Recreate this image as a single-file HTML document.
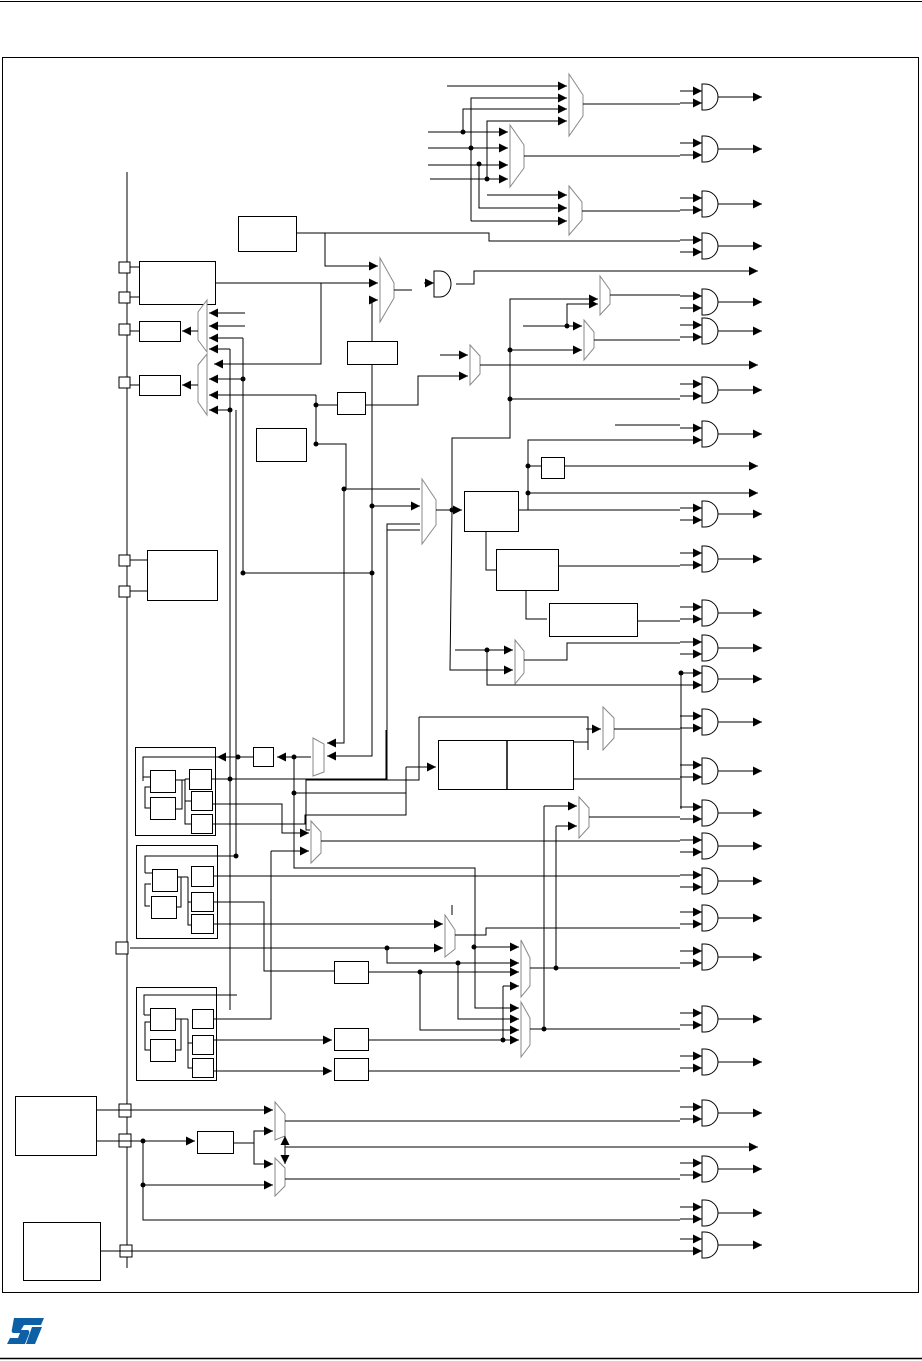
<!DOCTYPE html>
<html><head><meta charset="utf-8"><style>html,body{margin:0;padding:0;background:#fff}svg{display:block}</style></head>
<body>
<svg width="922" height="1361" viewBox="0 0 922 1361" xmlns="http://www.w3.org/2000/svg">
<defs>
<marker id="a" markerUnits="userSpaceOnUse" markerWidth="10" markerHeight="10" refX="9" refY="5" orient="auto"><path d="M0,0.5 L9,5 L0,9.5 z" fill="#000"/></marker>
<g id="g"><path d="M0,-13 h3 a13,13 0 0 1 0,26 h-3 z" fill="#fff" stroke="#000" stroke-width="1"/><line x1="-22" y1="-6" x2="0" y2="-6" stroke="#000" marker-end="url(#a)"/><line x1="-22" y1="6" x2="0" y2="6" stroke="#000" marker-end="url(#a)"/><line x1="16" y1="0" x2="60" y2="0" stroke="#000" marker-end="url(#a)"/></g>
</defs>
<rect width="922" height="1361" fill="#fff"/>
<line x1="0" y1="1.5" x2="922" y2="1.5" stroke="#000"/>
<line x1="0" y1="1358.5" x2="922" y2="1358.5" stroke="#000" stroke-width="1.5"/>
<rect x="2.5" y="57.5" width="916" height="1235" fill="none" stroke="#000"/>
<!-- ST logo -->
<path d="M14,1318 H44 L41,1325 H24 L21,1330 H28 Q30,1331 29,1334 L25,1344 H7 L10,1338 H18 L20,1333 H13 Q11,1332 12,1329 Z" fill="#0d5fa6"/>
<path d="M32,1327 H42 L35,1344 H26 Z" fill="#0d5fa6"/>

<g stroke="#000" fill="none" stroke-width="1">
<line x1="127" y1="172" x2="127" y2="1268"/>
<g fill="#fff">
<rect x="119" y="262" width="11" height="11"/><rect x="119" y="292" width="11" height="11"/><rect x="119" y="324" width="11" height="11"/><rect x="119" y="377" width="11" height="11"/><rect x="119" y="555" width="11" height="11"/><rect x="119" y="586" width="11" height="11"/><rect x="116" y="942" width="12" height="12"/><rect x="119" y="1104" width="12" height="13"/><rect x="119" y="1134" width="12" height="13"/><rect x="120" y="1245" width="12" height="12"/>
</g>
<rect x="139.5" y="261.5" width="76" height="43"/>
<rect x="139.5" y="321.5" width="41" height="20"/>
<rect x="139.5" y="375.5" width="41" height="20"/>
<rect x="238.5" y="216.5" width="58" height="35"/>
<rect x="147.5" y="550.5" width="70" height="50"/>
<rect x="256.5" y="428.5" width="50" height="33"/>
<rect x="347.5" y="341.5" width="50" height="23"/>
<rect x="337.5" y="392.5" width="28" height="22"/>
<rect x="464.5" y="491.5" width="54" height="40"/>
<rect x="496.5" y="549.5" width="62" height="41"/>
<rect x="549.5" y="603.5" width="88" height="33"/>
<rect x="541.5" y="457.5" width="23" height="21"/>
<rect x="438.5" y="740.5" width="135" height="49"/>
<line x1="507" y1="741" x2="507" y2="790" stroke-width="1.5"/>
<rect x="253.5" y="747.5" width="20" height="19"/>
<rect x="334.5" y="961.5" width="34" height="22"/>
<rect x="334.5" y="1028.5" width="34" height="22"/>
<rect x="334.5" y="1058.5" width="34" height="22"/>
<rect x="197.5" y="1131.5" width="36" height="22"/>
<rect x="15.5" y="1096.5" width="81" height="59"/>
<rect x="23.5" y="1222.5" width="77" height="58"/>
<rect x="135.5" y="747.5" width="80" height="88"/>
<rect x="150.5" y="770.5" width="25" height="22"/><rect x="150.5" y="797.5" width="25" height="22"/>
<rect x="189.5" y="769.5" width="22" height="20"/><rect x="191.5" y="791.5" width="21" height="19"/><rect x="191.5" y="814.5" width="21" height="19"/>
<path d="M143,781 V757 H228 M150,777 H143 M150,808 H145 V787 H150 M176,780 H185 M176,809 H182 V780 M185,779 H189 M185,779 V824 H191 M185,801 H191"/>
<rect x="136.5" y="845.5" width="81" height="93"/>
<rect x="152.5" y="869.5" width="25" height="22"/><rect x="151.5" y="896.5" width="25" height="22"/>
<rect x="191.5" y="866.5" width="22" height="20"/><rect x="191.5" y="892.5" width="22" height="19"/><rect x="191.5" y="914.5" width="22" height="19"/>
<path d="M145,873 V856 H236 M152,873 H145 M150,906 H145 V884 H151 M177,877 H181 V907 H176 M181,877 H188 M188,877 V925 H191 M188,902 H191"/>
<rect x="136.5" y="987.5" width="80" height="93"/>
<rect x="150.5" y="1008.5" width="25" height="22"/><rect x="150.5" y="1039.5" width="25" height="22"/>
<rect x="192.5" y="1009.5" width="21" height="19"/><rect x="192.5" y="1035.5" width="21" height="19"/><rect x="192.5" y="1058.5" width="21" height="19"/>
<path d="M144,1015 V995 H237 M150,1015 H144 M150,1050 H145 V1022 H150 M176,1019 H181 V1050 H176 M181,1019 H188 M188,1019 V1068 H192 M188,1043 H192"/>
</g>

<g stroke="#888" fill="#fff" stroke-width="1">
<polygon points="569,74 583,95 583,116 569,136"/>
<polygon points="510,125 524,145 524,168 510,187"/>
<polygon points="569,186 582,202 582,220 569,235"/>
<polygon points="380,258 394,283 394,298 380,322"/>
<polygon points="198,312 207,300 207,352 198,340"/>
<polygon points="198,365 207,354 207,415 198,402"/>
<polygon points="470,345 480,356 480,374 470,385"/>
<polygon points="600,276 610,290 610,304 600,315"/>
<polygon points="584,320 594,332 594,348 584,360"/>
<polygon points="422,479 436,500 436,525 422,544"/>
<polygon points="515,640 524,651 524,673 515,684"/>
<polygon points="603,707 614,718 614,738 603,750"/>
<polygon points="313,738 324,744 324,772 313,776"/>
<polygon points="311,821 321,832 321,853 311,863"/>
<polygon points="579,797 589,808 589,827 579,838"/>
<polygon points="445,915 455,930 455,949 445,957"/>
<polygon points="521,940 530,958 530,986 521,997"/>
<polygon points="521,1002 530,1018 530,1045 521,1057"/>
<polygon points="275,1102 285,1114 285,1136 275,1140"/>
<polygon points="275,1158 285,1168 285,1186 275,1196"/>
</g>

<g>
<use href="#g" x="702" y="97"/><use href="#g" x="702" y="149"/><use href="#g" x="702" y="204"/><use href="#g" x="702" y="246"/>
<use href="#g" x="702" y="302"/><use href="#g" x="702" y="331"/><use href="#g" x="702" y="390"/><use href="#g" x="702" y="434"/>
<use href="#g" x="702" y="514"/><use href="#g" x="702" y="559"/><use href="#g" x="702" y="613"/><use href="#g" x="702" y="648"/>
<use href="#g" x="702" y="679"/><use href="#g" x="702" y="722"/><use href="#g" x="702" y="771"/><use href="#g" x="702" y="813"/>
<use href="#g" x="702" y="846"/><use href="#g" x="702" y="881"/><use href="#g" x="702" y="918"/><use href="#g" x="702" y="957"/>
<use href="#g" x="702" y="1019"/><use href="#g" x="702" y="1062"/><use href="#g" x="702" y="1113"/><use href="#g" x="702" y="1169"/>
<use href="#g" x="702" y="1213"/><use href="#g" x="702" y="1245"/>
</g>

<g stroke="#000" fill="none" stroke-width="1">
<path d="M447,86 H567" marker-end="url(#a)"/>
<path d="M471,221 V98 H567" marker-end="url(#a)"/>
<path d="M463,132 V109 H567" marker-end="url(#a)"/>
<path d="M487,180 V121 H567" marker-end="url(#a)"/>
<path d="M428,132 H508" marker-end="url(#a)"/>
<path d="M428,148 H508" marker-end="url(#a)"/>
<path d="M428,165 H508" marker-end="url(#a)"/>
<path d="M430,179 H508" marker-end="url(#a)"/>
<path d="M487,195 H567" marker-end="url(#a)"/>
<path d="M479,164 V208 H567" marker-end="url(#a)"/>
<path d="M471,221 H567" marker-end="url(#a)"/>
<path d="M583,104 H680 M524,156 H680 M582,211 H680"/>
<path d="M297,233 H489 V241 H680"/>
<path d="M325,233 V266 H378" marker-end="url(#a)"/>
<path d="M216,283 H378" marker-end="url(#a)"/>
<path d="M321,283 V364 H214" marker-end="url(#a)"/>
<path d="M372,341 V300 H378" marker-end="url(#a)"/>
<path d="M394,290 H412"/>
<path d="M424,283 H434" marker-end="url(#a)"/>
<path d="M456,284 H474 V271 H758" marker-end="url(#a)"/>
<path d="M434,271 h6 a11,13 0 0 1 0,26 h-6 z" fill="#fff"/>
<path d="M245,313 H209" marker-end="url(#a)"/>
<path d="M245,326 H209" marker-end="url(#a)"/>
<path d="M243,338 H209" marker-end="url(#a)"/>
<path d="M230,349 H209" marker-end="url(#a)"/>
<path d="M243,379 H209" marker-end="url(#a)"/>
<path d="M316,395 H209" marker-end="url(#a)"/>
<path d="M230,410 H209" marker-end="url(#a)"/>
<path d="M198,331 H182" marker-end="url(#a)"/>
<path d="M198,385 H182" marker-end="url(#a)"/>
<path d="M130,331 H139 M130,385 H139 M130,267 H139 M130,297 H139 M130,560 H147 M130,591 H147"/>
<path d="M243,338 V573 M230,349 V1010 M236,410 V856 M243,573 H372"/>
<path d="M316,395 V444 M316,405 H337 M316,444 H346 V489 H420"/>
<path d="M365,405 H418 V376 H468" marker-end="url(#a)"/>
<path d="M440,355 H468" marker-end="url(#a)"/>
<path d="M480,365 H758" marker-end="url(#a)"/>
<path d="M372,365 V578 M372,506 H420" marker-end="url(#a)"/>
<path d="M387,530 H420"/>
<path d="M330,780 H387 V524 H420"/>
<path d="M372,578 V756 H327" marker-end="url(#a)"/>
<path d="M344,489 V743 H327" marker-end="url(#a)"/>
<path d="M436,510 H462" marker-end="url(#a)"/>
<path d="M452,510 V438 H510 V299 H598" marker-end="url(#a)"/>
<path d="M510,350 H582" marker-end="url(#a)"/>
<path d="M510,399 H680"/>
<path d="M523,326 H582" marker-end="url(#a)"/>
<path d="M567,326 V304 H598" marker-end="url(#a)"/>
<path d="M610,295 H680 M594,340 H680"/>
<path d="M615,425 H680 M519,510 H680 M528,510 V440 H680 M528,466 H541"/>
<path d="M565,466 H758" marker-end="url(#a)"/>
<path d="M528,493 H758" marker-end="url(#a)"/>
<path d="M486,531 V570 H497 M558,566 H680 M526,590 V619 H547"/>
<path d="M637,621 H680"/>
<path d="M452,510 L450,670 H513" marker-end="url(#a)"/>
<path d="M455,650 H513" marker-end="url(#a)"/>
<path d="M487,650 V685 H680"/>
<path d="M524,660 H567 V643 H680"/>
<path d="M681,673 V809"/>
<path d="M419,717 H588 V750"/>
<path d="M419,717 V780 H306 V830 H310"/>
<path d="M586,729 H601" marker-end="url(#a)"/>
<path d="M573,742 H588 M614,729 H680"/>
<path d="M573,779 H680"/>
<path d="M406,767 H436" marker-end="url(#a)"/>
<path d="M406,767 V793 H294"/>
<path d="M311,757 H277" marker-end="url(#a)"/>
<path d="M253,757 H217" marker-end="url(#a)"/>
<path d="M294,757 V868 H475 V1008 H519" marker-end="url(#a)"/>
<path d="M212,779 H386 V730"/>
<path d="M213,804 H282 V833 H309" marker-end="url(#a)"/>
<path d="M213,824 H305 V815 H406 V793"/>
<path d="M271,851 H309" marker-end="url(#a)"/>
<path d="M271,851 V1019 H213"/>
<path d="M321,841 H680"/>
<path d="M544,806 H577" marker-end="url(#a)"/>
<path d="M556,826 H577" marker-end="url(#a)"/>
<path d="M589,817 H680 M544,806 V1029 M556,826 V968"/>
<path d="M214,876 H680 M213,902 H264 V971 H334"/>
<path d="M213,924 H443" marker-end="url(#a)"/>
<path d="M130,948 H443" marker-end="url(#a)"/>
<path d="M387,948 V963 H519" marker-end="url(#a)"/>
<path d="M452,905 V915 M455,935 H486 V928 H680"/>
<path d="M474,947 H519" marker-end="url(#a)"/>
<path d="M369,972 H519" marker-end="url(#a)"/>
<path d="M420,972 V1030 H519" marker-end="url(#a)"/>
<path d="M458,963 V1019 H519" marker-end="url(#a)"/>
<path d="M503,986 V1040 M503,986 H519" marker-end="url(#a)"/>
<path d="M530,968 H680 M530,1029 H680"/>
<path d="M213,1040 H332" marker-end="url(#a)"/>
<path d="M369,1040 H519" marker-end="url(#a)"/>
<path d="M213,1071 H332" marker-end="url(#a)"/>
<path d="M369,1071 H680"/>
<path d="M97,1110 H273" marker-end="url(#a)"/>
<path d="M97,1141 H195" marker-end="url(#a)"/>
<path d="M233,1143 H254 V1131 H273" marker-end="url(#a)"/>
<path d="M254,1143 V1164 H273" marker-end="url(#a)"/>
<path d="M143,1141 V1185 H273" marker-end="url(#a)"/>
<path d="M285,1121 H680 M285,1179 H680"/>
<path d="M285,1147 H758" marker-end="url(#a)"/>
<path d="M285,1148 V1136" marker-end="url(#a)"/>
<path d="M285,1144 V1164" marker-end="url(#a)"/>
<path d="M143,1185 V1220 H680"/>
<path d="M101,1251 H680"/>
</g>
<g fill="#000">
<circle cx="463" cy="132" r="2.5"/><circle cx="471" cy="148" r="2.5"/><circle cx="479" cy="164" r="2.5"/><circle cx="487" cy="179" r="2.5"/>
<circle cx="243" cy="379" r="2.5"/><circle cx="230" cy="410" r="2.5"/><circle cx="316" cy="405" r="2.5"/><circle cx="316" cy="444" r="2.5"/>
<circle cx="243" cy="573" r="2.5"/><circle cx="372" cy="573" r="2.5"/><circle cx="372" cy="506" r="2.5"/><circle cx="344" cy="489" r="2.5"/>
<circle cx="510" cy="350" r="2.5"/><circle cx="510" cy="399" r="2.5"/><circle cx="567" cy="326" r="2.5"/><circle cx="452" cy="510" r="2.5"/>
<circle cx="528" cy="466" r="2.5"/><circle cx="528" cy="493" r="2.5"/><circle cx="487" cy="650" r="2.5"/><circle cx="681" cy="673" r="2.5"/>
<circle cx="294" cy="757" r="2.5"/><circle cx="294" cy="793" r="2.5"/><circle cx="238" cy="757" r="2.5"/><circle cx="230" cy="779" r="2.5"/><circle cx="236" cy="856" r="2.5"/>
<circle cx="387" cy="948" r="2.5"/><circle cx="474" cy="947" r="2.5"/><circle cx="458" cy="963" r="2.5"/><circle cx="420" cy="972" r="2.5"/><circle cx="503" cy="1040" r="2.5"/>
<circle cx="556" cy="968" r="2.5"/><circle cx="544" cy="1029" r="2.5"/><circle cx="143" cy="1141" r="2.5"/><circle cx="143" cy="1185" r="2.5"/>
</g>
</svg>
</body></html>
